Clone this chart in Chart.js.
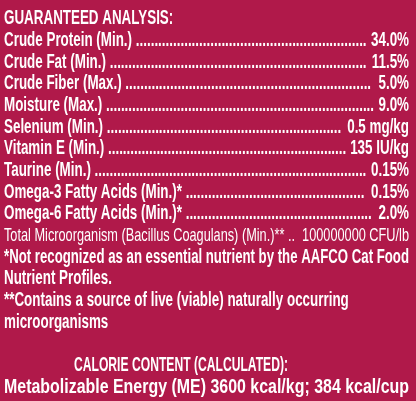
<!DOCTYPE html>
<html>
<head>
<script src="https://cdn.jsdelivr.net/npm/chart.js@4"></script>
<style>
  html, body { margin: 0; padding: 0; background: #b0194a; }
  #wrap { width: 416px; height: 401px; }
</style>
</head>
<body>
<div id="wrap"><canvas id="label"></canvas></div>
<script>
// rows of the analysis panel
let heading = 'GUARANTEED ANALYSIS:';
let nutrients = ['Crude Protein (Min.)', 'Crude Fat (Min.)', 'Crude Fiber (Max.)', 'Moisture (Max.)',
  'Selenium (Min.)', 'Vitamin E (Min.)', 'Taurine (Min.)', 'Omega-3 Fatty Acids (Min.)*', 'Omega-6 Fatty Acids (Min.)*'];
let amounts = ['34.0%', '11.5%', '5.0%', '9.0%', '0.5 mg/kg', '135 IU/kg', '0.15%', '0.15%', '2.0%'];
let microLabel = 'Total Microorganism (Bacillus Coagulans) (Min.)**';
let microAmount = '100000000 CFU/lb';
let notes = ['*Not recognized as an essential nutrient by the AAFCO Cat Food', 'Nutrient Profiles.',
  '**Contains a source of live (viable) naturally occurring', 'microorganisms', ''];
let calorieHeading = 'CALORIE CONTENT (CALCULATED):';
let calorieLine = 'Metabolizable Energy (ME) 3600 kcal/kg; 384 kcal/cup';

let rows = [heading].concat(nutrients, [microLabel], notes, [calorieHeading, calorieLine]);
let FONT = '"Liberation Sans", sans-serif';
let SX = 0.67; // squeeze to look condensed

let textPlugin = {
  id: 'textRows',
  afterDraw(chart) {
    let ctx = chart.ctx;
    let y = chart.scales.y;
    ctx.save();
    ctx.fillStyle = '#ffffff';
    ctx.textBaseline = 'middle';
    rows.forEach((r, i) => {
      let py = y.getPixelForValue(i) + 1;
      let bold = i !== 10;
      let size = i === 10 ? 19 : 20;
      ctx.font = (bold ? 'bold ' : '') + size + 'px ' + FONT;
      let x0 = i === 16 ? 74 : 4;
      let right = 409;
      let val = i >= 1 && i <= 9 ? amounts[i - 1] : (i === 10 ? microAmount : null);
      let sx = SX;
      if (i === 10) sx = (right - x0) / ctx.measureText(r + ' ... ' + val).width;
      if (i === 11 || i === 17) sx = (right - x0) / ctx.measureText(r).width;
      if (i === 16) sx = (288 - x0) / ctx.measureText(r).width;
      ctx.save();
      ctx.scale(sx, 1);
      ctx.textAlign = 'left';
      ctx.fillText(r, x0 / sx, py);
      if (val) {
        let startX = x0 / sx + ctx.measureText(r + ' ').width;
        ctx.textAlign = 'right';
        ctx.fillText(val, right / sx, py);
        let endX = right / sx - ctx.measureText(' ' + val).width;
        let dw = ctx.measureText('.').width;
        let n = Math.max(0, Math.floor((endX - startX) / dw));
        ctx.textAlign = 'left';
        ctx.fillText('.'.repeat(n), startX, py);
      }
      ctx.restore();
    });
    ctx.restore();
  }
};

new Chart(document.getElementById('label').getContext('2d'), {
  type: 'bar',
  data: {
    labels: rows.map((r, i) => i),
    datasets: [{ data: rows.map(() => 0), backgroundColor: 'transparent' }]
  },
  options: {
    indexAxis: 'y',
    animation: false,
    responsive: true,
    maintainAspectRatio: false,
    layout: { padding: { top: 7, bottom: 4, left: 0, right: 0 } },
    plugins: { legend: { display: false }, tooltip: { enabled: false } },
    scales: {
      x: { display: false },
      y: { display: false }
    }
  },
  plugins: [textPlugin]
});
</script>
</body>
</html>
